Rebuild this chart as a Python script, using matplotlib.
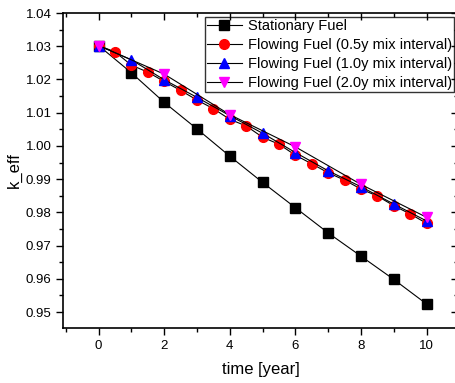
import matplotlib
matplotlib.use("Agg")
import matplotlib.pyplot as plt
from matplotlib.ticker import MultipleLocator, FormatStrFormatter

plt.rcParams["font.family"] = ["Liberation Sans", "DejaVu Sans"]

# stationary fuel, yearly points
t_stat = [0, 1, 2, 3, 4, 5, 6, 7, 8, 9, 10]
k_stat = [1.0302, 1.0220, 1.0131, 1.0051, 0.9969, 0.9890, 0.9814, 0.9738, 0.9668, 0.9598, 0.9524]

# flowing fuel, 0.5 y mixing
t_05 = [0, 0.5, 1, 1.5, 2, 2.5, 3, 3.5, 4, 4.5, 5, 5.5, 6, 6.5, 7, 7.5, 8, 8.5, 9, 9.5, 10]
k_05 = [1.0302, 1.0283, 1.0243, 1.0222, 1.0194, 1.0167, 1.0138, 1.0112, 1.0080, 1.0060, 1.0026,
        1.0005, 0.9972, 0.9946, 0.9919, 0.9897, 0.9870, 0.9849, 0.9820, 0.9795, 0.9767]

# flowing fuel, 1.0 y mixing
t_10 = [0, 1, 2, 3, 4, 5, 6, 7, 8, 9, 10]
k_10 = [1.0302, 1.0259, 1.0199, 1.0146, 1.0091, 1.0038, 0.9980, 0.9925, 0.9877, 0.9825, 0.9774]

# flowing fuel, 2.0 y mixing
t_20 = [0, 2, 4, 6, 8, 10]
k_20 = [1.0302, 1.0216, 1.0094, 0.9997, 0.9884, 0.9785]

fig = plt.figure(figsize=(4.56, 3.83), dpi=100)
pos = [63.5 / 456, 1 - 328 / 383, 1 - 63.5 / 456 + 0.004, (328 - 13) / 383]
ax = fig.add_axes(pos)

ms = 6.5
ax.plot(t_stat, k_stat, color="black", lw=0.8, marker="s", ms=ms, mfc="black", mec="black",
        label="Stationary Fuel")
ax.plot(t_05, k_05, color="black", lw=0.8, marker="o", ms=ms + 0.5, mfc="red", mec="red",
        label="Flowing Fuel (0.5y mix interval)")
ax.plot(t_10, k_10, color="black", lw=0.8, marker="^", ms=ms + 0.5, mfc="blue", mec="blue",
        label="Flowing Fuel (1.0y mix interval)")
ax.plot(t_20, k_20, color="black", lw=0.8, marker="v", ms=ms + 0.5, mfc="magenta", mec="magenta",
        label="Flowing Fuel (2.0y mix interval)")

ax.set_xlim(-1.07, 10.95)
ax.set_ylim(0.9452, 1.04)
ax.xaxis.set_major_locator(MultipleLocator(2))
ax.xaxis.set_minor_locator(MultipleLocator(1))
ax.yaxis.set_major_locator(MultipleLocator(0.01))
ax.yaxis.set_minor_locator(MultipleLocator(0.005))
ax.yaxis.set_major_formatter(FormatStrFormatter("%.2f"))

ax.tick_params(which="both", direction="out", labelsize=9.5, width=1)
ax.tick_params(which="major", length=5)
ax.tick_params(which="minor", length=3)
for s in ax.spines.values():
    s.set_linewidth(1.2)

# overlay axes just for the inward ticks on top and right
ax2 = fig.add_axes(pos, sharex=ax, sharey=ax)
ax2.patch.set_visible(False)
for s in ax2.spines.values():
    s.set_visible(False)
ax2.tick_params(which="both", direction="in", left=False, bottom=False, top=True, right=True,
                labelleft=False, labelbottom=False, labeltop=False, labelright=False, width=1)
ax2.tick_params(which="major", length=5)
ax2.tick_params(which="minor", length=3)

ax.set_xlabel("time [year]", fontsize=12, labelpad=7)
ax.set_ylabel("k_eff", fontsize=12, labelpad=3)

leg = ax.legend(loc="upper right", fontsize=10.5, frameon=True, fancybox=False, edgecolor="black",
                borderpad=0.15, labelspacing=0.35, handlelength=2.4, handletextpad=0.4,
                borderaxespad=0.15, bbox_to_anchor=(0.996, 0.995))
leg.get_frame().set_linewidth(1.0)
leg.set_zorder(5)

fig.savefig("out.png", dpi=100)
